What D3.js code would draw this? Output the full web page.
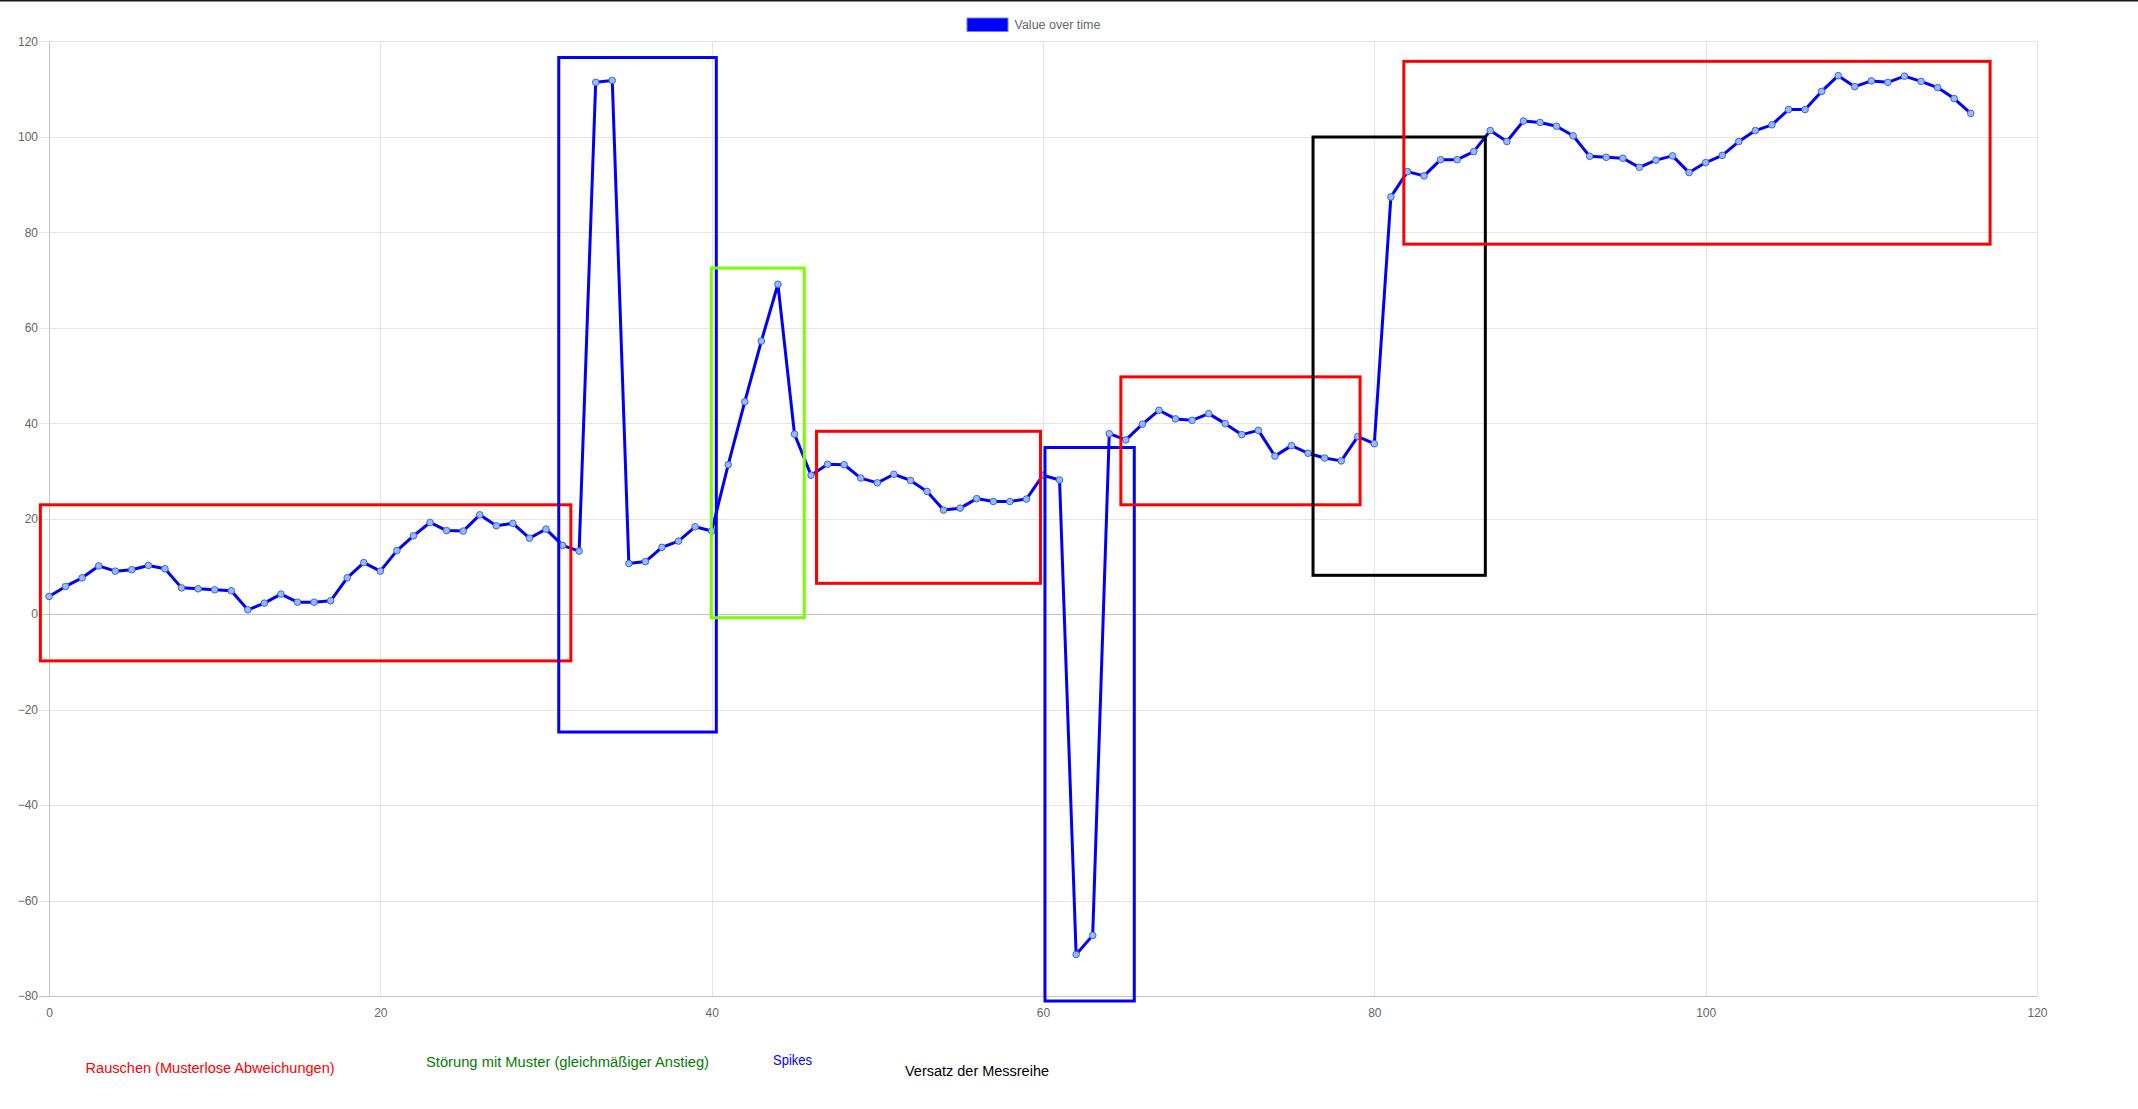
<!DOCTYPE html>
<html>
<head>
<meta charset="utf-8">
<script src="https://cdn.jsdelivr.net/npm/d3@7"></script>
<style>
  html, body { margin: 0; padding: 0; background: #fff; }
  svg { display: block; }
  .tick text { font-family: "Liberation Sans", Arial, Helvetica, sans-serif; font-size: 12px; fill: #666; }
</style>
</head>
<body>
<svg id="chart" width="2138" height="1109"></svg>
<script>
// ---------- data ----------
const seriesName = "Value over time";
const values = [
  3.7, 5.8, 7.6, 10.1, 9.0, 9.3, 10.2, 9.5, 5.5, 5.3,
  5.1, 4.9, 0.9, 2.3, 4.2, 2.5, 2.5, 2.8, 7.6, 10.8,
  9.0, 13.3, 16.4, 19.2, 17.5, 17.4, 20.8, 18.5, 19.0, 15.9,
  17.8, 14.4, 13.2, 111.4, 111.8, 10.6, 11.0, 14.0, 15.3, 18.3,
  17.4, 31.3, 44.5, 57.2, 69.1, 37.7, 29.1, 31.4, 31.3, 28.5,
  27.5, 29.3, 28.0, 25.7, 21.8, 22.2, 24.2, 23.6, 23.6, 24.1,
  29.1, 28.1, -71.3, -67.3, 37.8, 36.5, 39.8, 42.7, 40.9, 40.6,
  42.0, 39.9, 37.6, 38.5, 33.1, 35.3, 33.7, 32.7, 32.1, 37.2,
  35.7, 87.4, 92.7, 91.8, 95.2, 95.2, 96.9, 101.3, 99.0, 103.3,
  103.0, 102.2, 100.2, 95.9, 95.7, 95.5, 93.6, 95.1, 96.0, 92.5,
  94.6, 96.1, 99.0, 101.3, 102.5, 105.7, 105.7, 109.5, 112.8, 110.5,
  111.7, 111.4, 112.7, 111.6, 110.3, 108.0, 104.9
];
const xTicks = [0, 20, 40, 60, 80, 100, 120];
const yTicks = [-80, -60, -40, -20, 0, 20, 40, 60, 80, 100, 120];

// annotation regions in data units
const regionKinds = ["noise", "spike", "pattern", "noise", "spike", "noise", "offset", "noise"];
const regionX0 = [-0.52, 30.77, 39.98, 46.33, 60.12, 64.70, 76.30, 81.78];
const regionX1 = [31.50, 40.28, 45.59, 59.85, 65.51, 79.14, 86.70, 117.17];
const regionY0 = [-9.8, -24.7, -0.75, 6.45, -81.05, 22.9, 8.13, 77.5];
const regionY1 = [22.9, 116.6, 72.5, 38.3, 34.9, 49.7, 99.95, 115.8];

const labelKinds = ["noise", "pattern", "spike", "offset"];
const labelTexts = [
  "Rauschen (Musterlose Abweichungen)",
  "Störung mit Muster (gleichmäßiger Anstieg)",
  "Spikes",
  "Versatz der Messreihe"
];

// ---------- styles / layout ----------
const kindColor = { noise: "#ff0000", spike: "#0000ff", pattern: "#7cfc00", offset: "#000000" };
const labelColor = { noise: "#ff0000", pattern: "#008000", spike: "#0000ff", offset: "#000000" };
const labelLayout = [
  { x: 85.6, y: 1073, w: 249 },
  { x: 426, y: 1067, w: 283 },
  { x: 773, y: 1064.5, w: 39 },
  { x: 905, y: 1075.5, w: 144 }
];

const svg = d3.select("#chart");
const x = d3.scaleLinear().domain([0, 120]).range([49, 2037]);
const y = d3.scaleLinear().domain([-80, 120]).range([996, 41.3]);

svg.append("rect").attr("x", 0).attr("y", 0).attr("width", 2138).attr("height", 1.5).attr("fill", "#1a1a1a");

// gridlines
const grid = svg.append("g");
grid.selectAll("line.h").data(yTicks).join("line")
  .attr("x1", 39).attr("x2", x(120))
  .attr("y1", d => Math.round(y(d)) + 0.5).attr("y2", d => Math.round(y(d)) + 0.5)
  .attr("stroke", d => (d === 0 || d === -80) ? "#c4c4c4" : "#e5e5e5")
  .attr("stroke-width", 1);
grid.selectAll("line.v").data(xTicks).join("line")
  .attr("x1", d => Math.round(x(d)) + 0.5).attr("x2", d => Math.round(x(d)) + 0.5)
  .attr("y1", y(120)).attr("y2", y(-80))
  .attr("stroke", d => d === 0 ? "#c4c4c4" : "#e5e5e5")
  .attr("stroke-width", 1);

// axes (labels only)
const yAxis = svg.append("g").attr("transform", "translate(49,0)")
  .call(d3.axisLeft(y).tickValues(yTicks).tickSize(0).tickPadding(11));
yAxis.select(".domain").remove();
const xAxis = svg.append("g").attr("transform", `translate(0,${y(-80)})`)
  .call(d3.axisBottom(x).tickValues(xTicks).tickSize(0).tickPadding(12));
xAxis.select(".domain").remove();

// line
const line = d3.line().x((d, i) => x(i)).y(d => y(d));
svg.append("path").datum(values)
  .attr("d", line)
  .attr("fill", "none")
  .attr("stroke", "#0000ff")
  .attr("stroke-width", 3)
  .attr("stroke-linejoin", "round");

svg.append("g").selectAll("circle").data(values).join("circle")
  .attr("cx", (d, i) => x(i)).attr("cy", d => y(d))
  .attr("r", 3.3)
  .attr("fill", "#95bff4")
  .attr("stroke", "#3f5ff2")
  .attr("stroke-width", 1);

// annotation rectangles
svg.append("g").selectAll("rect").data(regionKinds).join("rect")
  .attr("x", (d, i) => x(regionX0[i]))
  .attr("y", (d, i) => y(regionY1[i]))
  .attr("width", (d, i) => x(regionX1[i]) - x(regionX0[i]))
  .attr("height", (d, i) => y(regionY0[i]) - y(regionY1[i]))
  .attr("fill", "none")
  .attr("stroke", d => kindColor[d])
  .attr("stroke-width", 3);

// legend
const legend = svg.append("g");
legend.append("rect").attr("x", 967).attr("y", 18).attr("width", 41).attr("height", 13.5)
  .attr("fill", "#0000ff").attr("stroke", "#6f7fff").attr("stroke-width", 1);
legend.append("text").attr("x", 1014.5).attr("y", 28.6)
  .attr("font-family", "Liberation Sans, Arial, Helvetica, sans-serif")
  .attr("font-size", 12.5).attr("fill", "#666").text(seriesName);

// bottom explanation labels
svg.append("g").selectAll("text").data(labelKinds).join("text")
  .attr("x", (d, i) => labelLayout[i].x)
  .attr("y", (d, i) => labelLayout[i].y)
  .attr("textLength", (d, i) => labelLayout[i].w)
  .attr("lengthAdjust", "spacingAndGlyphs")
  .attr("font-family", "Liberation Sans, Arial, sans-serif")
  .attr("font-size", 14)
  .attr("fill", d => labelColor[d])
  .text((d, i) => labelTexts[i]);
</script>
</body>
</html>
